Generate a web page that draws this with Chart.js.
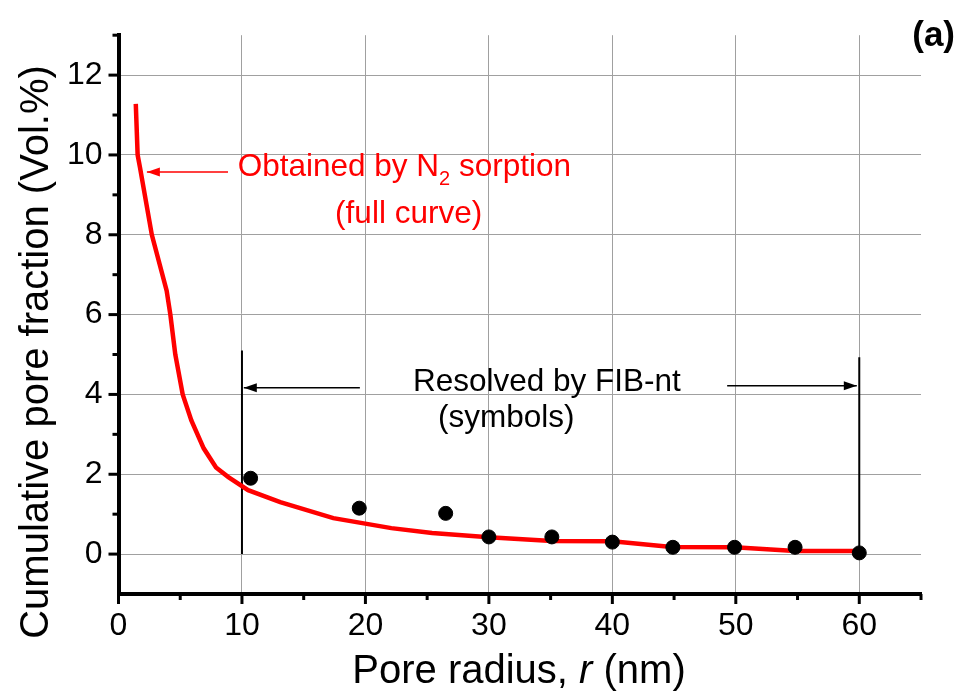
<!DOCTYPE html>
<html>
<head>
<meta charset="utf-8">
<script src="https://cdn.jsdelivr.net/npm/chart.js@4.4.1/dist/chart.umd.min.js"></script>
<style>
  html, body { margin: 0; padding: 0; background: #fff; }
  canvas { display: block; }
</style>
</head>
<body>
<canvas id="c" width="961" height="694"></canvas>
<script>
// ---- data ----
const curveR    = [1.4, 1.55, 1.75, 2.7, 3.9, 4.2, 4.6, 5.2, 5.9, 6.9, 7.9, 8.9, 10.5, 13.1, 17.4, 22.1, 25.4, 30, 35.1, 40, 44.8, 49.9, 54.8, 60];
const curveFrac = [11.28, 10.0, 9.67, 8.0, 6.6, 6.0, 5.0, 4.0, 3.35, 2.65, 2.17, 1.93, 1.6, 1.3, 0.9, 0.65, 0.53, 0.42, 0.33, 0.32, 0.18, 0.17, 0.08, 0.08];
const fibR      = [10.7, 19.5, 26.5, 30, 35.1, 40, 44.9, 49.9, 54.8, 60];
const fibFrac   = [1.9, 1.15, 1.02, 0.43, 0.43, 0.3, 0.17, 0.17, 0.17, 0.03];
const xTickLabels = [0, 10, 20, 30, 40, 50, 60];
const yTickLabels = [0, 2, 4, 6, 8, 10, 12];
const rangeMarkR   = [10, 60];
const rangeMarkTop = [5.1, 4.93];

const FONT = "'Liberation Sans', Arial, Helvetica, sans-serif";
const GRID = '#a0a0a0';

const toXY = (xs, ys) => xs.map((x, i) => ({ x: x, y: ys[i] }));

const markerDatasets = rangeMarkR.map((r, i) => ({
  type: 'line',
  data: [{ x: r, y: 0 }, { x: r, y: rangeMarkTop[i] }],
  borderColor: '#000',
  borderWidth: 2,
  pointRadius: 0,
  order: 3
}));

const ticksAndNotes = {
  id: 'ticksAndNotes',
  afterDraw(chart) {
    const ctx = chart.ctx;
    const xs = chart.scales.x, ys = chart.scales.y;
    const area = chart.chartArea;
    ctx.save();
    // tick marks (major / minor)
    ctx.strokeStyle = '#000';
    ctx.lineWidth = 3;
    ys.ticks.forEach(t => {
      const v = t.value;
      if (v === -1) return;
      const len = (yTickLabels.includes(v)) ? 10 : 6;
      const p = ys.getPixelForValue(v);
      ctx.beginPath();
      ctx.moveTo(area.left - len, p);
      ctx.lineTo(area.left, p);
      ctx.stroke();
    });
    xs.ticks.forEach(t => {
      const v = t.value;
      const len = (xTickLabels.includes(v)) ? 10 : 6;
      const p = xs.getPixelForValue(v);
      ctx.beginPath();
      ctx.moveTo(p, area.bottom);
      ctx.lineTo(p, area.bottom + len);
      ctx.stroke();
    });

    const X = v => xs.getPixelForValue(v);
    const Y = v => ys.getPixelForValue(v);

    function arrow(x1, y1, x2, y2, color, w) {
      ctx.strokeStyle = color; ctx.fillStyle = color; ctx.lineWidth = w;
      ctx.beginPath(); ctx.moveTo(x1, y1); ctx.lineTo(x2, y2); ctx.stroke();
      const ang = Math.atan2(y2 - y1, x2 - x1);
      const L = 13, H = 4.5;
      ctx.beginPath();
      ctx.moveTo(x2, y2);
      ctx.lineTo(x2 - L * Math.cos(ang) + H * Math.sin(ang), y2 - L * Math.sin(ang) - H * Math.cos(ang));
      ctx.lineTo(x2 - L * Math.cos(ang) - H * Math.sin(ang), y2 - L * Math.sin(ang) + H * Math.cos(ang));
      ctx.closePath(); ctx.fill();
    }

    // N2 sorption annotation (red)
    ctx.fillStyle = '#ff0000';
    ctx.textBaseline = 'alphabetic';
    const f1 = '31.5px ' + FONT, fs = '20px ' + FONT;
    ctx.font = f1;
    const a = 'Obtained by N', b = ' sorption';
    const wa = ctx.measureText(a).width, wb = ctx.measureText(b).width;
    ctx.font = fs;
    const ws = ctx.measureText('2').width;
    const total = wa + ws + wb;
    const cx = X(23.15);
    let sx = cx - total / 2;
    const base1 = Y(9.475);
    ctx.font = f1; ctx.textAlign = 'left';
    ctx.fillText(a, sx, base1);
    ctx.font = fs;
    ctx.fillText('2', sx + wa, base1 + 9);
    ctx.font = f1;
    ctx.fillText(b, sx + wa + ws, base1);
    ctx.textAlign = 'center';
    ctx.fillText('(full curve)', X(23.5), Y(8.3));
    arrow(X(8.87), Y(9.575), X(2.3), Y(9.575), '#ff0000', 1.5);

    // FIB-nt annotation (black)
    ctx.fillStyle = '#000';
    ctx.font = f1;
    ctx.textAlign = 'center';
    ctx.fillText('Resolved by FIB-nt', X(34.7), Y(4.08));
    ctx.fillText('(symbols)', X(31.4), Y(3.18));
    arrow(X(19.55), Y(4.17), X(10.15), Y(4.17), '#000', 1.5);
    arrow(X(49.3), Y(4.22), X(59.8), Y(4.22), '#000', 1.5);

    // panel label
    ctx.font = 'bold 35px ' + FONT;
    ctx.textAlign = 'right';
    ctx.fillText('(a)', 955, 46);

    // axis titles
    ctx.font = '40px ' + FONT;
    ctx.textAlign = 'left';
    const t1 = 'Pore radius, ', t2 = 'r', t3 = ' (nm)';
    const w1 = ctx.measureText(t1).width, w3 = ctx.measureText(t3).width;
    ctx.font = 'italic 40px ' + FONT;
    const w2 = ctx.measureText(t2).width;
    let tx = 519 - (w1 + w2 + w3) / 2;
    const tb = 683;
    ctx.font = '40px ' + FONT;
    ctx.fillText(t1, tx, tb);
    ctx.font = 'italic 40px ' + FONT;
    ctx.fillText(t2, tx + w1, tb);
    ctx.font = '40px ' + FONT;
    ctx.fillText(t3, tx + w1 + w2, tb);

    ctx.translate(48, 352);
    ctx.rotate(-Math.PI / 2);
    ctx.textAlign = 'center';
    ctx.fillText('Cumulative pore fraction (Vol.%)', 0, 0);
    ctx.restore();
  }
};

new Chart(document.getElementById('c'), {
  type: 'scatter',
  data: {
    datasets: [
      {
        type: 'scatter',
        data: toXY(fibR, fibFrac),
        backgroundColor: '#000',
        borderColor: '#000',
        pointRadius: 7,
        pointHoverRadius: 7,
        order: 0
      },
      {
        type: 'line',
        data: toXY(curveR, curveFrac),
        borderColor: '#ff0000',
        borderWidth: 4.5,
        pointRadius: 0,
        tension: 0,
        fill: false,
        order: 1
      },
      ...markerDatasets
    ]
  },
  options: {
    responsive: false,
    animation: false,
    events: [],
    layout: { padding: { top: 34, right: 40, left: 0, bottom: 0 } },
    plugins: { legend: { display: false }, tooltip: { enabled: false } },
    scales: {
      x: {
        type: 'linear',
        min: 0, max: 65,
        afterFit: s => { s.height = 100; },
        ticks: {
          stepSize: 5,
          autoSkip: false,
          maxRotation: 0,
          padding: 13,
          color: '#000',
          font: { family: FONT, size: 32 },
          callback: v => xTickLabels.includes(v) ? String(v) : ''
        },
        grid: {
          drawTicks: false,
          lineWidth: 1,
          color: c => (c.tick && xTickLabels.includes(c.tick.value) && c.tick.value > 0) ? GRID : 'rgba(0,0,0,0)'
        },
        border: { display: true, color: '#000', width: 4 }
      },
      y: {
        type: 'linear',
        min: -1, max: 13,
        afterFit: s => { s.width = 118.5; },
        ticks: {
          stepSize: 1,
          autoSkip: false,
          padding: 16,
          color: '#000',
          font: { family: FONT, size: 32 },
          callback: v => yTickLabels.includes(v) ? String(v) : ''
        },
        grid: {
          drawTicks: false,
          lineWidth: 1,
          color: c => (c.tick && yTickLabels.includes(c.tick.value)) ? GRID : 'rgba(0,0,0,0)'
        },
        border: { display: true, color: '#000', width: 4 }
      }
    }
  },
  plugins: [ticksAndNotes]
});
</script>
</body>
</html>
